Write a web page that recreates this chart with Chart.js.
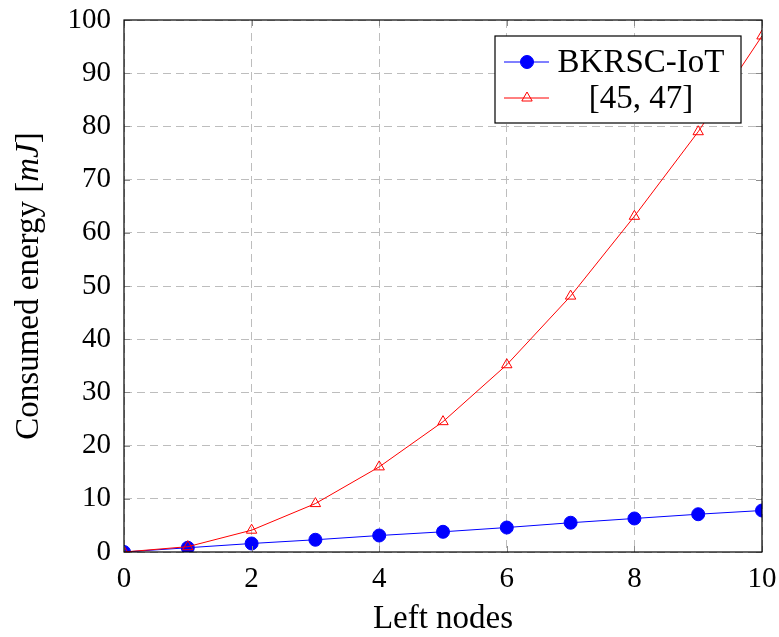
<!DOCTYPE html>
<html>
<head>
<meta charset="utf-8">
<script src="https://cdn.jsdelivr.net/npm/chart.js@4/dist/chart.umd.min.js"></script>
<style>
  html, body { margin: 0; padding: 0; background: #fff; }
  canvas { display: block; }
</style>
</head>
<body>
<canvas id="chart" width="779" height="637"></canvas>
<script>
// data
const leftNodes = [0, 1, 2, 3, 4, 5, 6, 7, 8, 9, 10];
const bkrscEnergy = [0, 0.8, 1.6, 2.3, 3.1, 3.8, 4.6, 5.5, 6.3, 7.1, 7.8];
const refEnergy = [0, 1, 4.1, 9.1, 16, 24.5, 35.2, 48.1, 63.1, 79, 97];
const seriesNames = ['BKRSC-IoT', '[45, 47]'];
const xTitle = 'Left nodes';
const yTitleParts = [['Consumed energy [', false], ['mJ', true], [']', false]];

const FONT = '"Liberation Serif", "Times New Roman", serif';
const FS = 29;      // tick labels
const FS_T = 33;    // titles and legend

function toPoints(xs, ys) {
    return xs.map((x, i) => ({ x: x, y: ys[i] }));
}

// frame, inner ticks, axis titles and legend box (pgfplots look)
const decorations = {
    id: 'decorations',
    afterDatasetsDraw(chart) {
        const ctx = chart.ctx;
        const a = chart.chartArea;
        const xs = chart.scales.x, ys = chart.scales.y;
        ctx.save();

        // small tick marks on all four sides
        ctx.strokeStyle = '#8c8c8c';
        ctx.lineWidth = 1;
        const tl = 6;
        ctx.beginPath();
        xs.ticks.forEach(t => {
            const px = Math.round(xs.getPixelForValue(t.value)) + 0.5;
            ctx.moveTo(px, a.bottom); ctx.lineTo(px, a.bottom - tl);
            ctx.moveTo(px, a.top); ctx.lineTo(px, a.top + tl);
        });
        ys.ticks.forEach(t => {
            const py = Math.round(ys.getPixelForValue(t.value)) + 0.5;
            ctx.moveTo(a.left, py); ctx.lineTo(a.left + tl, py);
            ctx.moveTo(a.right, py); ctx.lineTo(a.right - tl, py);
        });
        ctx.stroke();

        // frame
        ctx.strokeStyle = '#000';
        ctx.lineWidth = 1.2;
        ctx.strokeRect(a.left, a.top, a.right - a.left, a.bottom - a.top);

        // x title
        ctx.fillStyle = '#000';
        ctx.font = FS_T + 'px ' + FONT;
        ctx.textAlign = 'center';
        ctx.textBaseline = 'alphabetic';
        ctx.fillText(xTitle, (a.left + a.right) / 2, 628);

        // y title, with italic unit
        ctx.translate(38, (a.top + a.bottom) / 2);
        ctx.rotate(-Math.PI / 2);
        let total = 0;
        yTitleParts.forEach(p => {
            ctx.font = (p[1] ? 'italic ' : '') + FS_T + 'px ' + FONT;
            total += ctx.measureText(p[0]).width;
        });
        let cx = -total / 2;
        ctx.textAlign = 'left';
        yTitleParts.forEach(p => {
            ctx.font = (p[1] ? 'italic ' : '') + FS_T + 'px ' + FONT;
            ctx.fillText(p[0], cx, 0);
            cx += ctx.measureText(p[0]).width;
        });
        ctx.setTransform(1, 0, 0, 1, 0, 0);

        // legend
        const bx = 495, by = 36, bw = 246, bh = 87;
        ctx.fillStyle = '#fff';
        ctx.fillRect(bx, by, bw, bh);
        ctx.strokeStyle = '#000';
        ctx.lineWidth = 1.2;
        ctx.strokeRect(bx, by, bw, bh);
        const rows = [62, 98];
        chart.data.datasets.forEach((ds, i) => {
            const y = rows[i];
            ctx.strokeStyle = ds.borderColor;
            ctx.lineWidth = 1;
            ctx.beginPath();
            ctx.moveTo(504, y); ctx.lineTo(549, y);
            ctx.stroke();
            ctx.fillStyle = ds.pointBackgroundColor;
            ctx.strokeStyle = ds.pointBorderColor;
            ctx.lineWidth = ds.pointBorderWidth;
            Chart.helpers.drawPoint(ctx, {
                pointStyle: ds.pointStyle,
                radius: ds.pointRadius,
                borderWidth: ds.pointBorderWidth
            }, 527, y);
            ctx.fillStyle = '#000';
            ctx.font = FS_T + 'px ' + FONT;
            ctx.textAlign = 'center';
            ctx.textBaseline = 'middle';
            ctx.fillText(seriesNames[i], 641, y + 1);
        });
        ctx.restore();
    }
};

const gridStyle = {
    color: '#bdbdbd',
    lineWidth: 1,
    drawTicks: false
};

new Chart(document.getElementById('chart'), {
    type: 'line',
    data: {
        datasets: [{
            label: seriesNames[0],
            data: toPoints(leftNodes, bkrscEnergy),
            borderColor: '#0000ff',
            borderWidth: 1,
            pointStyle: 'circle',
            pointRadius: 6.5,
            pointBackgroundColor: '#0000ff',
            pointBorderColor: '#0000ff',
            pointBorderWidth: 1,
            tension: 0,
            order: 2
        }, {
            label: seriesNames[1],
            data: toPoints(leftNodes, refEnergy),
            borderColor: '#ff0000',
            borderWidth: 1,
            pointStyle: 'triangle',
            pointRadius: 6,
            pointBackgroundColor: 'rgba(0,0,0,0)',
            pointBorderColor: '#ff0000',
            pointBorderWidth: 1,
            tension: 0,
            order: 1
        }]
    },
    options: {
        responsive: false,
        devicePixelRatio: 1,
        animation: false,
        layout: { padding: { left: 0, top: 20, right: 17, bottom: 0 } },
        plugins: {
            legend: { display: false },
            tooltip: { enabled: false }
        },
        scales: {
            x: {
                type: 'linear',
                min: 0,
                max: 10,
                border: { display: false, dash: [8, 5] },
                grid: gridStyle,
                ticks: {
                    stepSize: 2,
                    padding: 10,
                    color: '#000',
                    font: { family: FONT, size: FS }
                },
                afterFit(scale) {
                    scale.height = 85;
                    scale.paddingLeft = 0;
                    scale.paddingRight = 0;
                }
            },
            y: {
                min: 0,
                max: 100,
                border: { display: false, dash: [8, 5] },
                grid: gridStyle,
                ticks: {
                    stepSize: 10,
                    padding: 13,
                    color: '#000',
                    font: { family: FONT, size: FS }
                },
                afterFit(scale) {
                    scale.width = 124;
                    scale.paddingTop = 0;
                    scale.paddingBottom = 0;
                }
            }
        }
    },
    plugins: [decorations]
});
</script>
</body>
</html>
